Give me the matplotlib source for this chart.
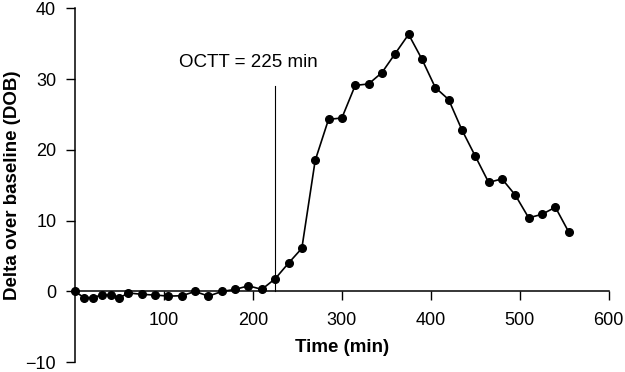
import numpy as np
import matplotlib
matplotlib.use("Agg")
import matplotlib.pyplot as plt

plt.rcParams['font.family'] = ['Liberation Sans', 'DejaVu Sans']

# data
time_min = [0, 10, 20, 30, 40, 50, 60, 75, 90, 105, 120, 135, 150, 165, 180,
            195, 210, 225, 240, 255, 270, 285, 300, 315, 330, 345, 360, 375,
            390, 405, 420, 435, 450, 465, 480, 495, 510, 525, 540, 555]
dob = [0, -0.85, -0.85, -0.5, -0.5, -0.9, -0.2, -0.4, -0.5, -0.65, -0.6, 0,
       -0.65, 0, 0.3, 0.8, 0.3, 1.8, 4.0, 6.1, 18.5, 24.3, 24.5, 29.1, 29.3,
       30.9, 33.6, 36.3, 32.8, 28.8, 27.1, 22.8, 19.1, 15.4, 15.9, 13.6,
       10.4, 10.9, 11.9, 8.4]
octt = 225
octt_top = 29
x_ticks = [100, 200, 300, 400, 500, 600]
y_ticks = [-10, 0, 10, 20, 30, 40]

fig = plt.figure(figsize=(6.25, 3.72), dpi=100)
ax = fig.add_axes([0.12, 0.026, 0.854, 0.952])

ax.plot(time_min, dob, '-o', color='black', lw=1.2, ms=5.5, clip_on=False, zorder=3)
ax.plot([octt, octt], [0, octt_top], color='black', lw=0.8)
ax.text(195, 32.3, 'OCTT = 225 min', ha='center', va='center', fontsize=13.5)

ax.set_xlim(0, 600)
ax.set_ylim(-10, 40)
ax.set_xticks(x_ticks)
ax.set_yticks(y_ticks)

ax.spines['top'].set_visible(False)
ax.spines['right'].set_visible(False)
ax.spines['bottom'].set_position(('data', 0))
for s in ('left', 'bottom'):
    ax.spines[s].set_linewidth(1.1)
ax.tick_params(axis='both', direction='out', length=6.5, width=1.0, labelsize=13)
ax.tick_params(axis='x', pad=8)
ax.tick_params(axis='y', pad=7)

ax.set_xlabel('Time (min)', fontsize=13.5, fontweight='bold')
ax.set_ylabel('Delta over baseline (DOB)', fontsize=13.5, fontweight='bold')
ax.xaxis.set_label_coords(0.5, 0.065)
ax.yaxis.set_label_coords(-0.101, 0.5)

fig.savefig('out.png', dpi=100)
